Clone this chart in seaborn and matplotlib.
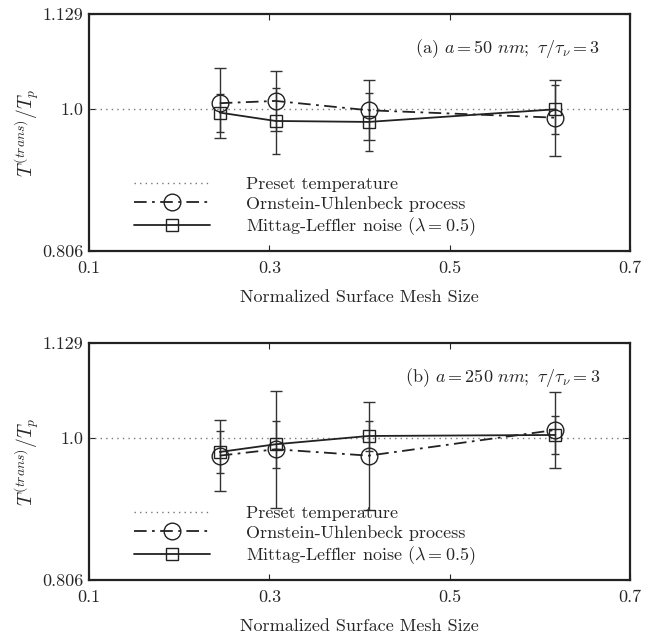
import numpy as np
import pandas as pd
import matplotlib
matplotlib.use("Agg")
import matplotlib.pyplot as plt
import seaborn as sns
from matplotlib.lines import Line2D

# ---- data ----
mesh_size = [0.245, 0.307, 0.41, 0.617]

ou_a = [1.0074, 1.0105, 0.9978, 0.9877]
ou_a_err = [0.048, 0.041, 0.041, 0.052]
ml_a = [0.9946, 0.9832, 0.9819, 0.9991]
ml_a_err = [0.026, 0.045, 0.040, 0.033]

ou_b = [0.9755, 0.9842, 0.9755, 1.0105]
ou_b_err = [0.048, 0.080, 0.0735, 0.0515]
ml_b = [0.9805, 0.9910, 1.0023, 1.0037]
ml_b_err = [0.029, 0.032, 0.020, 0.0255]

preset = 1.0
ylim = (0.806, 1.129)
yticks = [0.806, 1.0, 1.129]
ytick_labels = ["0.806", "1.0", "1.129"]
xticks = [0.1, 0.3, 0.5, 0.7]
xtick_labels = ["0.1", "0.3", "0.5", "0.7"]

series_names = ["Ornstein-Uhlenbeck process", r"Mittag-Leffler noise ($\lambda = 0.5$)"]
panel_titles = [r"(a) $a = 50\ nm;\ \tau/\tau_\nu = 3$",
                r"(b) $a = 250\ nm;\ \tau/\tau_\nu = 3$"]

sns.set_style("ticks")
plt.rcParams["font.family"] = ["cmr10", "DejaVu Serif"]
plt.rcParams["mathtext.fontset"] = "cm"
plt.rcParams["axes.unicode_minus"] = False

fig = plt.figure(figsize=(6.72, 6.35), dpi=100)
ax_a = fig.add_axes([0.1324, 0.6047, 0.8051, 0.3733])
ax_b = fig.add_axes([0.1324, 0.0866, 0.8051, 0.3732])

panels = [
    (ax_a, ou_a, ou_a_err, ml_a, ml_a_err, panel_titles[0]),
    (ax_b, ou_b, ou_b_err, ml_b, ml_b_err, panel_titles[1]),
]

for ax, ou, oue, ml, mle, title in panels:
    ax.axhline(preset, color="#777777", ls=(0, (1, 3)), lw=1.0, zorder=1)
    df = pd.DataFrame({
        "x": mesh_size * 2,
        "y": ou + ml,
        "series": [series_names[0]] * 4 + [series_names[1]] * 4,
    })
    # error bars
    ax.errorbar(mesh_size, ou, yerr=oue, fmt="none", ecolor="#333333",
                elinewidth=1.0, capsize=4, capthick=1.0, zorder=2)
    ax.errorbar(mesh_size, ml, yerr=mle, fmt="none", ecolor="#333333",
                elinewidth=1.0, capsize=3, capthick=1.0, zorder=2)
    sns.lineplot(data=df, x="x", y="y", style="series", ax=ax,
                 color="#222222", sort=False,
                 markers={series_names[0]: "o", series_names[1]: "s"},
                 dashes={series_names[0]: (7, 3, 1.5, 3), series_names[1]: ""},
                 markerfacecolor="none", markeredgecolor="#222222",
                 markeredgewidth=1.0, lw=1.3, legend=False, zorder=3)
    for ln, ms in zip(ax.get_lines()[-2:], [12, 9]):
        ln.set_markersize(ms)
    ax.set_xlim(0.1, 0.7)
    ax.set_ylim(*ylim)
    ax.set_xticks(xticks)
    ax.set_xticklabels(xtick_labels, fontsize=13)
    ax.set_yticks(yticks)
    ax.set_yticklabels(ytick_labels, fontsize=13)
    ax.tick_params(direction="in", top=True, right=True, length=4, width=0.8)
    ax.tick_params(axis="x", pad=7)
    ax.tick_params(axis="y", pad=4)
    for s in ax.spines.values():
        s.set_linewidth(1.6)
        s.set_color("#222222")
    ax.set_xlabel("Normalized Surface Mesh Size", fontsize=13, labelpad=10)
    ax.set_ylabel(r"$T^{(trans)}/T_p$", fontsize=14, labelpad=0)
    ax.text(0.945, 0.855, title, transform=ax.transAxes, ha="right",
            va="center", fontsize=13)
    handles = [
        Line2D([], [], color="#777777", ls=(0, (1, 3)), lw=1.0),
        Line2D([], [], color="#222222", ls=(0, (7, 3, 1.5, 3)), lw=1.3,
               marker="o", ms=12, mfc="none", mec="#222222"),
        Line2D([], [], color="#222222", ls="-", lw=1.3,
               marker="s", ms=9, mfc="none", mec="#222222"),
    ]
    ax.legend(handles, ["Preset temperature"] + series_names,
              loc="lower left", bbox_to_anchor=(0.06, 0.0), frameon=False,
              fontsize=13, handlelength=4.2, handletextpad=2.0,
              labelspacing=0.22, borderaxespad=0.3)

fig.savefig("out.png", dpi=100)
